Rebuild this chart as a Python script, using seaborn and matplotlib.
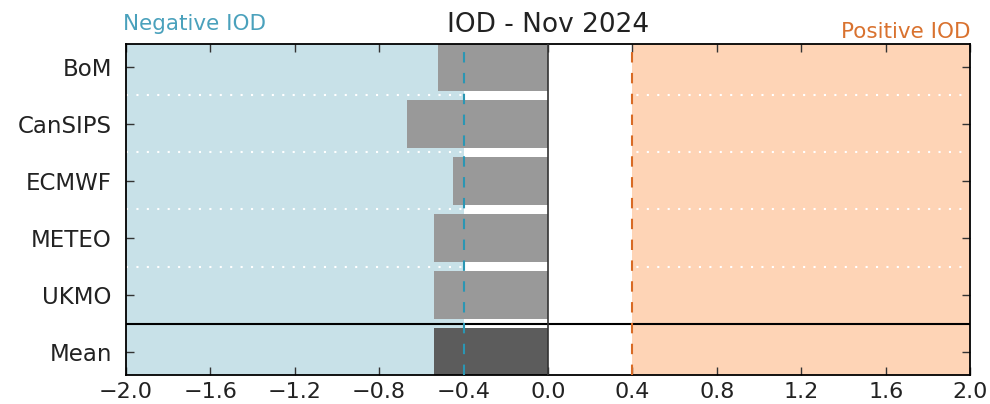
import matplotlib
matplotlib.use("Agg")
import matplotlib.pyplot as plt
import pandas as pd
import seaborn as sns

models = ["BoM", "CanSIPS", "ECMWF", "METEO", "UKMO", "Mean"]
iod = [-0.52, -0.67, -0.45, -0.54, -0.54, -0.54]
bar_colors = ["#999999", "#999999", "#999999", "#999999", "#999999", "#5c5c5c"]
threshold = 0.4
xticks = [-2.0, -1.6, -1.2, -0.8, -0.4, 0.0, 0.4, 0.8, 1.2, 1.6, 2.0]

sns.set_style("ticks")
plt.rcParams["font.family"] = ["DejaVu Sans"]

df = pd.DataFrame({"model": models, "iod": iod})

fig, ax = plt.subplots(figsize=(9.9, 4.04), dpi=100)
fig.subplots_adjust(left=0.127, right=0.98, top=0.891, bottom=0.072)

# shaded IOD regions
ax.axvspan(-2.0, -threshold, color="#c8e1e8", zorder=0, lw=0)
ax.axvspan(threshold, 2.0, color="#fed4b6", zorder=0, lw=0)
for y in [0.5, 1.5, 2.5, 3.5]:
    ax.axhline(y, color="white", ls=(0, (1, 4)), lw=1.5, zorder=0.5)

sns.barplot(data=df, x="iod", y="model", hue="model", palette=bar_colors,
            orient="h", width=0.85, legend=False, ax=ax, zorder=2,
            saturation=1, linewidth=0)

ax.axhline(4.5, color="black", lw=1.5, zorder=3)
ax.axvline(0, color="#333333", lw=1.2, zorder=3)
ax.axvline(-threshold, color="#2b96b3", ls=(0, (5, 5)), lw=1.5, zorder=3)
ax.axvline(threshold, color="#d86a24", ls=(0, (5, 5)), lw=1.5, zorder=3)

ax.set_xlim(-2.0, 2.0)
ax.set_ylim(5.4, -0.4)
ax.set_xticks(xticks)
ax.set_xticklabels([f"{t:.1f}".replace("-", "\u2212") for t in xticks])
ax.set_xlabel("")
ax.set_ylabel("")
ax.tick_params(direction="in", top=True, right=True, length=6, width=1,
               colors="#333333", labelcolor="#222222")
ax.tick_params(axis="x", labelsize=16, pad=5)
ax.tick_params(axis="y", labelsize=16.5, pad=10)
for s in ax.spines.values():
    s.set_linewidth(1.3)
    s.set_color("black")

ax.set_title("IOD - Nov 2024", fontsize=19, pad=9, color="#222222")
ax.text(-0.003, 1.03, "Negative IOD", transform=ax.transAxes, color="#4aa1bc",
        fontsize=15.5, ha="left", va="bottom")
ax.text(1.0, 1.005, "Positive IOD", transform=ax.transAxes, color="#d9722f",
        fontsize=15.5, ha="right", va="bottom")

fig.savefig("out.png", dpi=100)
